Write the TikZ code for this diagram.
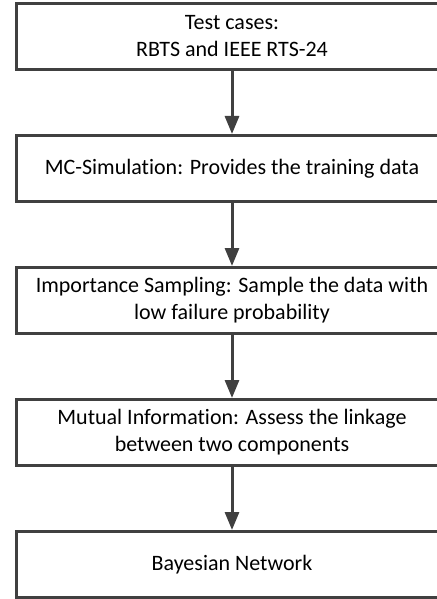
\documentclass[tikz,border=0pt]{standalone}
\usepackage{fontspec}
\setmainfont{Carlito}[Ligatures=NoCommon]
\usepackage{tikz}
\usetikzlibrary{shapes.geometric, arrows.meta}
\definecolor{edgegray}{HTML}{404040}
\tikzstyle{block} = [rectangle, draw=edgegray, line width=1.5pt, fill=white, minimum width=215pt, minimum height=33pt, align=center, font=\fontsize{11}{13.5}\selectfont]
\tikzstyle{line} = [draw=edgegray, line width=1.5pt, -{Triangle[length=9pt,width=7pt]}]

\begin{document}
\begin{tikzpicture}[node distance=66pt, auto]

\useasboundingbox (-116pt,18.25pt) rectangle (102.5pt,-281.25pt);

\node [block] (T) {Test cases:\\RBTS and IEEE RTS-24};
\node [block, below of=T] (M) {MC-Simulation: Provides the training data};
\node [block, below of=M] (I) {Importance Sampling: Sample the data with\\low failure probability};
\node [block, below of=I] (MI) {Mutual Information: Assess the linkage\\between two components};
\node [block, below of=MI] (B) {Bayesian Network};

\path [line] (T) -- (M);
\path [line] (M) -- (I);
\path [line] (I) -- (MI);
\path [line] (MI) -- (B);

\end{tikzpicture}
\end{document}
